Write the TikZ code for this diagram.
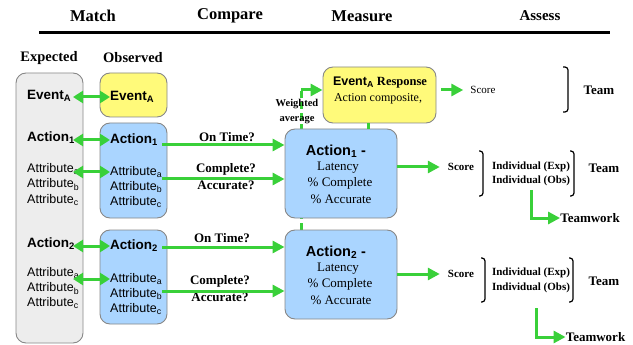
\documentclass[tikz,border=0pt]{standalone}
\usepackage{fontspec}
\setmainfont{Liberation Serif}
\setsansfont{Liberation Sans}
\usetikzlibrary{arrows.meta,backgrounds}
\definecolor{boxgray}{RGB}{237,237,237}
\definecolor{boxyellow}{RGB}{255,250,122}
\definecolor{boxblue}{RGB}{170,213,255}
\definecolor{edgegray}{RGB}{135,135,135}
\definecolor{linkgreen}{RGB}{57,208,57}
\tikzset{
	box/.style={draw=edgegray, line width=0.9pt, rounded corners=10pt, inner sep=0pt},
	link/.style={linkgreen, line width=3pt},
	flow/.style={link, -{Triangle[length=12pt,width=12pt]}},
	both/.style={link, {Triangle[length=10pt,width=12pt]}-{Triangle[length=10pt,width=12pt]}},
	brk/.style={black, line width=1.2pt, rounded corners=3pt},
	hdr/.style={inner sep=0pt, font=\fontsize{16.5}{18}\selectfont\bfseries},
	col/.style={inner sep=0pt, font=\fontsize{14.5}{16}\selectfont\bfseries},
	evt/.style={inner sep=0pt, anchor=west, font=\fontsize{13.5}{15}\selectfont\sffamily\bfseries},
	attr/.style={inner sep=0pt, anchor=west, font=\fontsize{12.5}{14}\selectfont\sffamily},
	ask/.style={inner sep=0pt, font=\fontsize{13}{15}\selectfont\bfseries},
	mact/.style={inner sep=0pt, font=\fontsize{14.5}{16}\selectfont\sffamily\bfseries},
	mtxt/.style={inner sep=0pt, font=\fontsize{13}{15}\selectfont},
	small/.style={inner sep=0pt, font=\fontsize{11}{13}\selectfont},
	smallb/.style={inner sep=0pt, font=\fontsize{11}{13}\selectfont\bfseries},
	team/.style={inner sep=0pt, font=\fontsize{13}{15}\selectfont\bfseries}
}
\begin{document}
\begin{tikzpicture}[x=1pt, y=-1pt]
	\useasboundingbox (0,0) rectangle (633,345);

	\node[hdr] (Hm) at (93,16) {Match};
	\node[hdr] (Hc) at (230,16) {Compare};
	\node[hdr] (Hs) at (362,16) {Measure};
	\node[hdr, font=\fontsize{15}{17}\selectfont\bfseries] (Ha) at (540,16) {Assess};
	\coordinate (L0) at (39,33);
	\coordinate (L1) at (610,33);
	\draw[line width=3pt] (L0) -- (L1);

	\node[col] (Ex) at (49,58) {Expected};
	\node[col] (Ob) at (133,58) {Observed};

	\node[box, fill=boxgray, minimum width=67pt, minimum height=270pt] (Exp) at (49.5,208) {};
	\node[box, fill=boxyellow, minimum width=67pt, minimum height=44pt] (ObsE) at (133.5,95) {};
	\node[box, fill=boxblue, minimum width=67pt, minimum height=95pt] (Obs1) at (133.5,170.5) {};
	\node[box, fill=boxblue, minimum width=67pt, minimum height=94pt] (Obs2) at (133.5,277) {};
	\node[box, fill=boxyellow, minimum width=113pt, minimum height=56pt] (Resp) at (379.5,95) {};
	\node[box, fill=boxblue, minimum width=112pt, minimum height=89pt] (Meas1) at (341,173.5) {};
	\node[box, fill=boxblue, minimum width=112pt, minimum height=89pt] (Meas2) at (341,274.5) {};

	\node[evt] (ExE) at (27,96) {Event\textsubscript{A}};
	\node[evt] (ObE) at (110,97) {Event\textsubscript{A}};
	\node[evt] (ExA1) at (27,138) {Action\textsubscript{1}};
	\node[evt] (ObA1) at (110,140) {Action\textsubscript{1}};
	\node[attr] (ExT1a) at (27,169) {Attribute\textsubscript{a}};
	\node[attr] (ExT1b) at (27,184.5) {Attribute\textsubscript{b}};
	\node[attr] (ExT1c) at (27,200) {Attribute\textsubscript{c}};
	\node[attr] (ObT1a) at (110,172) {Attribute\textsubscript{a}};
	\node[attr] (ObT1b) at (110,187) {Attribute\textsubscript{b}};
	\node[attr] (ObT1c) at (110,202) {Attribute\textsubscript{c}};
	\node[evt] (ExA2) at (27,244) {Action\textsubscript{2}};
	\node[evt] (ObA2) at (110,246) {Action\textsubscript{2}};
	\node[attr] (ExT2a) at (27,273) {Attribute\textsubscript{a}};
	\node[attr] (ExT2b) at (27,288.5) {Attribute\textsubscript{b}};
	\node[attr] (ExT2c) at (27,303) {Attribute\textsubscript{c}};
	\node[attr] (ObT2a) at (110,279) {Attribute\textsubscript{a}};
	\node[attr] (ObT2b) at (110,294) {Attribute\textsubscript{b}};
	\node[attr] (ObT2c) at (110,309) {Attribute\textsubscript{c}};

	\coordinate (DL) at (73,0);
	\draw[both] (DL |- ObE.west) -- (ObE.west);
	\draw[both] (DL |- ObA1.west) -- (ObA1.west);
	\draw[both] (DL |- ObT1a.west) -- (ObT1a.west);
	\draw[both] (DL |- ObA2.west) -- (ObA2.west);
	\draw[both] (DL |- ObT2a.west) -- (ObT2a.west);

	\node[ask] (OT1) at (227,137) {On Time?};
	\node[ask] (CP1) at (226,169) {Complete?};
	\node[ask] (AC1) at (226,185.5) {Accurate?};
	\node[ask] (OT2) at (222,238) {On Time?};
	\node[ask] (CP2) at (220,281) {Complete?};
	\node[ask] (AC2) at (220,297.5) {Accurate?};
	\coordinate (q1) at (162,145);
	\coordinate (q2) at (162,179);
	\coordinate (q3) at (162,247);
	\coordinate (q4) at (162,291);
	\draw[flow] (q1) -- (q1 -| Meas1.west);
	\draw[flow] (q2) -- (q2 -| Meas1.west);
	\draw[flow] (q3) -- (q3 -| Meas2.west);
	\draw[flow] (q4) -- (q4 -| Meas2.west);

	\node[mact] (M1a) at (336,151) {Action\textsubscript{1} -};
	\node[mtxt] (M1b) at (338,168) {Latency};
	\node[mtxt] (M1c) at (340,183.5) {\% Complete};
	\node[mtxt] (M1d) at (341,199) {\% Accurate};
	\node[mact] (M2a) at (336,252) {Action\textsubscript{2} -};
	\node[mtxt] (M2b) at (338,269) {Latency};
	\node[mtxt] (M2c) at (340,284.5) {\% Complete};
	\node[mtxt] (M2d) at (341,300) {\% Accurate};

	\node[inner sep=0pt, font=\fontsize{12.5}{14}\selectfont\bfseries] (R1) at (380,83) {{\sffamily Event\textsubscript{A}} Response};
	\node[inner sep=0pt, font=\fontsize{12}{14}\selectfont] (R2) at (378,99) {Action composite,};
	\node[inner sep=0pt, align=center, font=\fontsize{10.5}{15}\selectfont\bfseries] (WA) at (297,111.5) {Weighted\\average};

	\begin{scope}[on background layer]
		\coordinate (WAt) at (301,90);
		\draw[link, dash pattern=on 7pt off 4pt] (WAt |- Meas2.north) -- (WAt);
	\end{scope}
	\draw[flow] (WAt) -- (WAt -| Resp.west);
	\coordinate (RM) at (368,0);
	\draw[link] (RM |- Resp.south) -- (RM |- Meas1.north);

	\node[small] (S0) at (483,90) {Score};
	\node[smallb] (S1) at (461,167) {Score};
	\node[smallb] (S2) at (461,274) {Score};
	\draw[flow, shorten <=5pt, shorten >=7pt] (Resp.east |- S0.west) -- (S0.west);
	\draw[flow, shorten >=8pt] (Meas1.east |- S1.west) -- (S1.west);
	\draw[flow, shorten >=8pt] (Meas2.east |- S2.west) -- (S2.west);

	\draw[brk] (563,67) -- (568,67) -- (568,112) -- (563,112);
	\draw[brk] (479,151) -- (483,151) -- (483,196) -- (479,196);
	\draw[brk] (570,151) -- (574,151) -- (574,196) -- (570,196);
	\draw[brk] (481,258) -- (485,258) -- (485,302) -- (481,302);
	\draw[brk] (569,258) -- (573,258) -- (573,302) -- (569,302);

	\node[smallb] (I1e) at (531,167) {Individual (Exp)};
	\node[smallb] (I1o) at (531,181) {Individual (Obs)};
	\node[smallb] (I2e) at (531,273) {Individual (Exp)};
	\node[smallb] (I2o) at (531,288) {Individual (Obs)};
	\node[team] (T0) at (599,90) {Team};
	\node[team] (T1) at (604,168) {Team};
	\node[team] (T2) at (604,281) {Team};
	\node[team] (TW1) at (590,218) {Teamwork};
	\node[team] (TW2) at (595.5,337) {Teamwork};

	\coordinate (tw1) at (531,190);
	\coordinate (tw2) at (536,308);
	\draw[flow] (tw1) |- (TW1.west);
	\draw[flow] (tw2) |- (TW2.west);
\end{tikzpicture}
\end{document}
